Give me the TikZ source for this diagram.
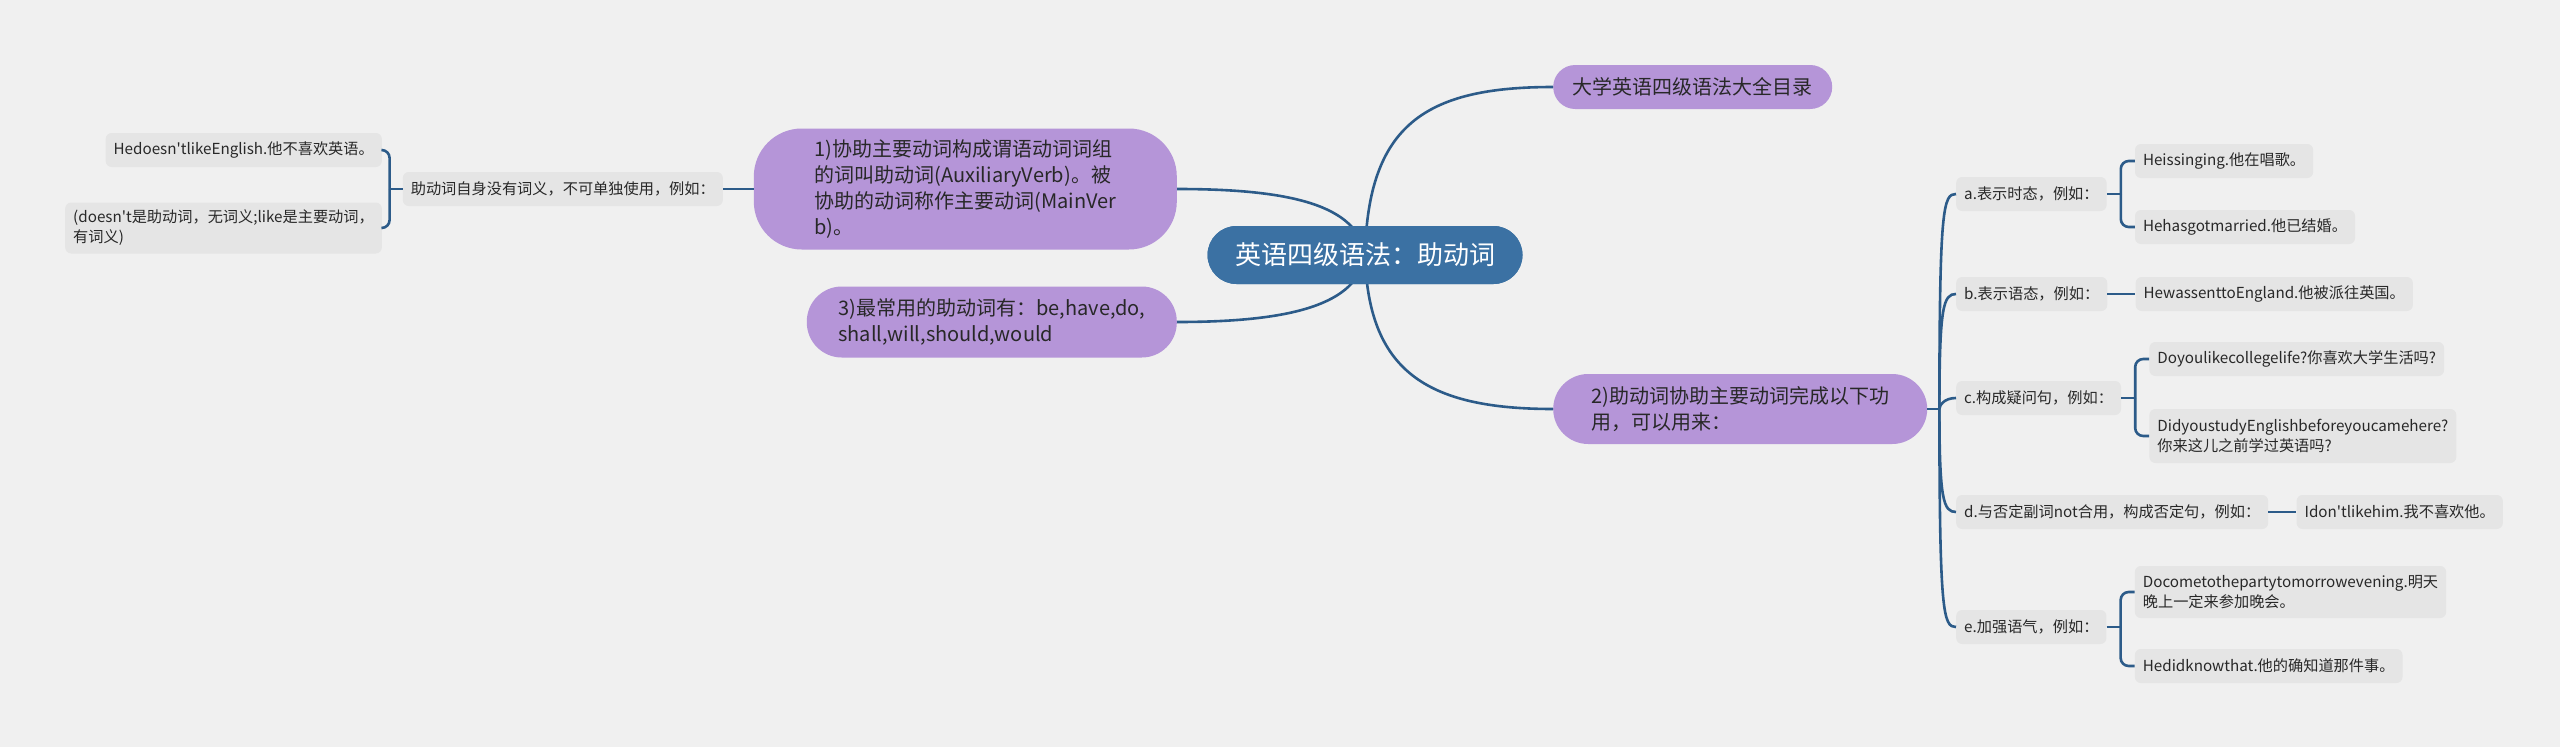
\documentclass[tikz,border=0pt]{standalone}
\usepackage{fontspec}
\setmainfont{Noto Sans CJK SC}[Ligatures=TeXOff]
\usetikzlibrary{calc}
\definecolor{bgc}{RGB}{240,240,240}
\definecolor{rootc}{RGB}{59,113,163}
\definecolor{purp}{RGB}{181,149,216}
\definecolor{linec}{RGB}{44,91,137}
\definecolor{leafc}{RGB}{229,229,229}
\definecolor{txt}{RGB}{40,40,40}
\begin{document}
\begin{tikzpicture}[x=1pt,y=-1pt,
 conn/.style={draw=linec,line width=2.6pt},
 rootbox/.style={fill=rootc,text=white,rounded corners=29pt,minimum width=315pt,minimum height=58pt,font=\fontsize{26}{30}\selectfont,inner sep=0pt},
 pbox/.style={fill=purp,text=txt,font=\fontsize{20}{26}\selectfont,align=left,inner sep=0pt},
 leaf/.style={fill=leafc,text=txt,rounded corners=6pt,font=\fontsize{15.2}{20}\selectfont,align=left,inner xsep=8pt,inner ysep=0pt,minimum height=34pt},
]
\fill[bgc] (0,0) rectangle (2560,747);
\useasboundingbox (0,0) rectangle (2560,747);

% nodes
\node[rootbox] (root) at (1365,255) {英语四级语法：助动词};
\node[pbox,minimum width=423pt,minimum height=121pt,rounded corners=48pt,anchor=east] (n1) at (1177,189) {1)协助主要动词构成谓语动词词组\\的词叫助动词(AuxiliaryVerb)。被\\协助的动词称作主要动词(MainVer\\b)。};
\node[pbox,minimum width=370pt,minimum height=71pt,rounded corners=35pt,anchor=east] (n3) at (1177,322) {3)最常用的助动词有：be,have,do,\\shall,will,should,would};
\node[pbox,minimum width=279pt,minimum height=44pt,rounded corners=22pt,anchor=west] (n0) at (1553,87) {大学英语四级语法大全目录};
\node[pbox,minimum width=374pt,minimum height=70pt,rounded corners=35pt,anchor=west] (n2) at (1553,409) {2)助动词协助主要动词完成以下功\\用，可以用来：};

\node[leaf,anchor=east] (zd) at (723,189) {助动词自身没有词义，不可单独使用，例如：};
\node[leaf,anchor=east] (L1) at (382,150) {Hedoesn'tlikeEnglish.他不喜欢英语。};
\node[leaf,anchor=east,minimum height=51pt] (L2) at (382,228) {(doesn't是助动词，无词义;like是主要动词，\\有词义)};

\node[leaf,anchor=west] (ra) at (1956,194) {a.表示时态，例如：};
\node[leaf,anchor=west] (rb) at (1956,294) {b.表示语态，例如：};
\node[leaf,anchor=west] (rc) at (1956,398) {c.构成疑问句，例如：};
\node[leaf,anchor=west] (rd) at (1956,512) {d.与否定副词not合用，构成否定句，例如：};
\node[leaf,anchor=west] (re) at (1956,627) {e.加强语气，例如：};

\node[leaf,anchor=west] (a1) at ($(ra.east)+(28,-33)$) {Heissinging.他在唱歌。};
\node[leaf,anchor=west] (a2) at ($(ra.east)+(28,33)$) {Hehasgotmarried.他已结婚。};
\node[leaf,anchor=west] (b1) at ($(rb.east)+(28,0)$) {HewassenttoEngland.他被派往英国。};
\node[leaf,anchor=west] (c1) at ($(rc.east)+(28,-39)$) {Doyoulikecollegelife?你喜欢大学生活吗?};
\node[leaf,anchor=west,minimum height=54pt] (c2) at ($(rc.east)+(28,38)$) {DidyoustudyEnglishbeforeyoucamehere?\\你来这儿之前学过英语吗?};
\node[leaf,anchor=west] (d1) at ($(rd.east)+(28,0)$) {Idon'tlikehim.我不喜欢他。};
\node[leaf,anchor=west,minimum height=52pt] (e1) at ($(re.east)+(28,-35)$) {Docometothepartytomorrowevening.明天\\晚上一定来参加晚会。};
\node[leaf,anchor=west] (e2) at ($(re.east)+(28,39)$) {Hedidknowthat.他的确知道那件事。};

% connectors from root (root redrawn on top)
\draw[conn] (n1.east) .. controls (1290,189) and (1358,205) .. (root.center);
\draw[conn] (n3.east) .. controls (1290,322) and (1358,305) .. (root.center);
\draw[conn] (root.center) .. controls (1368,125) and (1425,87) .. (n0.west);
\draw[conn] (root.center) .. controls (1368,370) and (1425,409) .. (n2.west);
\node[rootbox] at (root.center) {英语四级语法：助动词};

% left side
\draw[conn] (n1.west) -- (zd.east);
\draw[conn] (zd.west) -- ++(-13,0) coordinate (jz);
\draw[conn,rounded corners=8pt] (jz) |- (L1.east);
\draw[conn,rounded corners=8pt] (jz) |- (L2.east);

% right trunk
\draw[conn] (n2.east) -- ++(12,0) coordinate (j2);
\foreach \c/\s in {ra/12,rb/12,rc/8,rd/-12,re/-12}{
  \draw[conn] (j2) .. controls ($(j2|-\c.west)+(0,\s)$) and ($(j2|-\c.west)+(4,0)$) .. (\c.west);
}

% sub braces
\draw[conn] (ra.east) -- ++(14,0) coordinate (ja);
\draw[conn,rounded corners=8pt] (ja) |- (a1.west);
\draw[conn,rounded corners=8pt] (ja) |- (a2.west);
\draw[conn] (rb.east) -- (b1.west);
\draw[conn] (rc.east) -- ++(14,0) coordinate (jc);
\draw[conn,rounded corners=8pt] (jc) |- (c1.west);
\draw[conn,rounded corners=8pt] (jc) |- (c2.west);
\draw[conn] (rd.east) -- (d1.west);
\draw[conn] (re.east) -- ++(14,0) coordinate (je);
\draw[conn,rounded corners=8pt] (je) |- (e1.west);
\draw[conn,rounded corners=8pt] (je) |- (e2.west);
\end{tikzpicture}
\end{document}
